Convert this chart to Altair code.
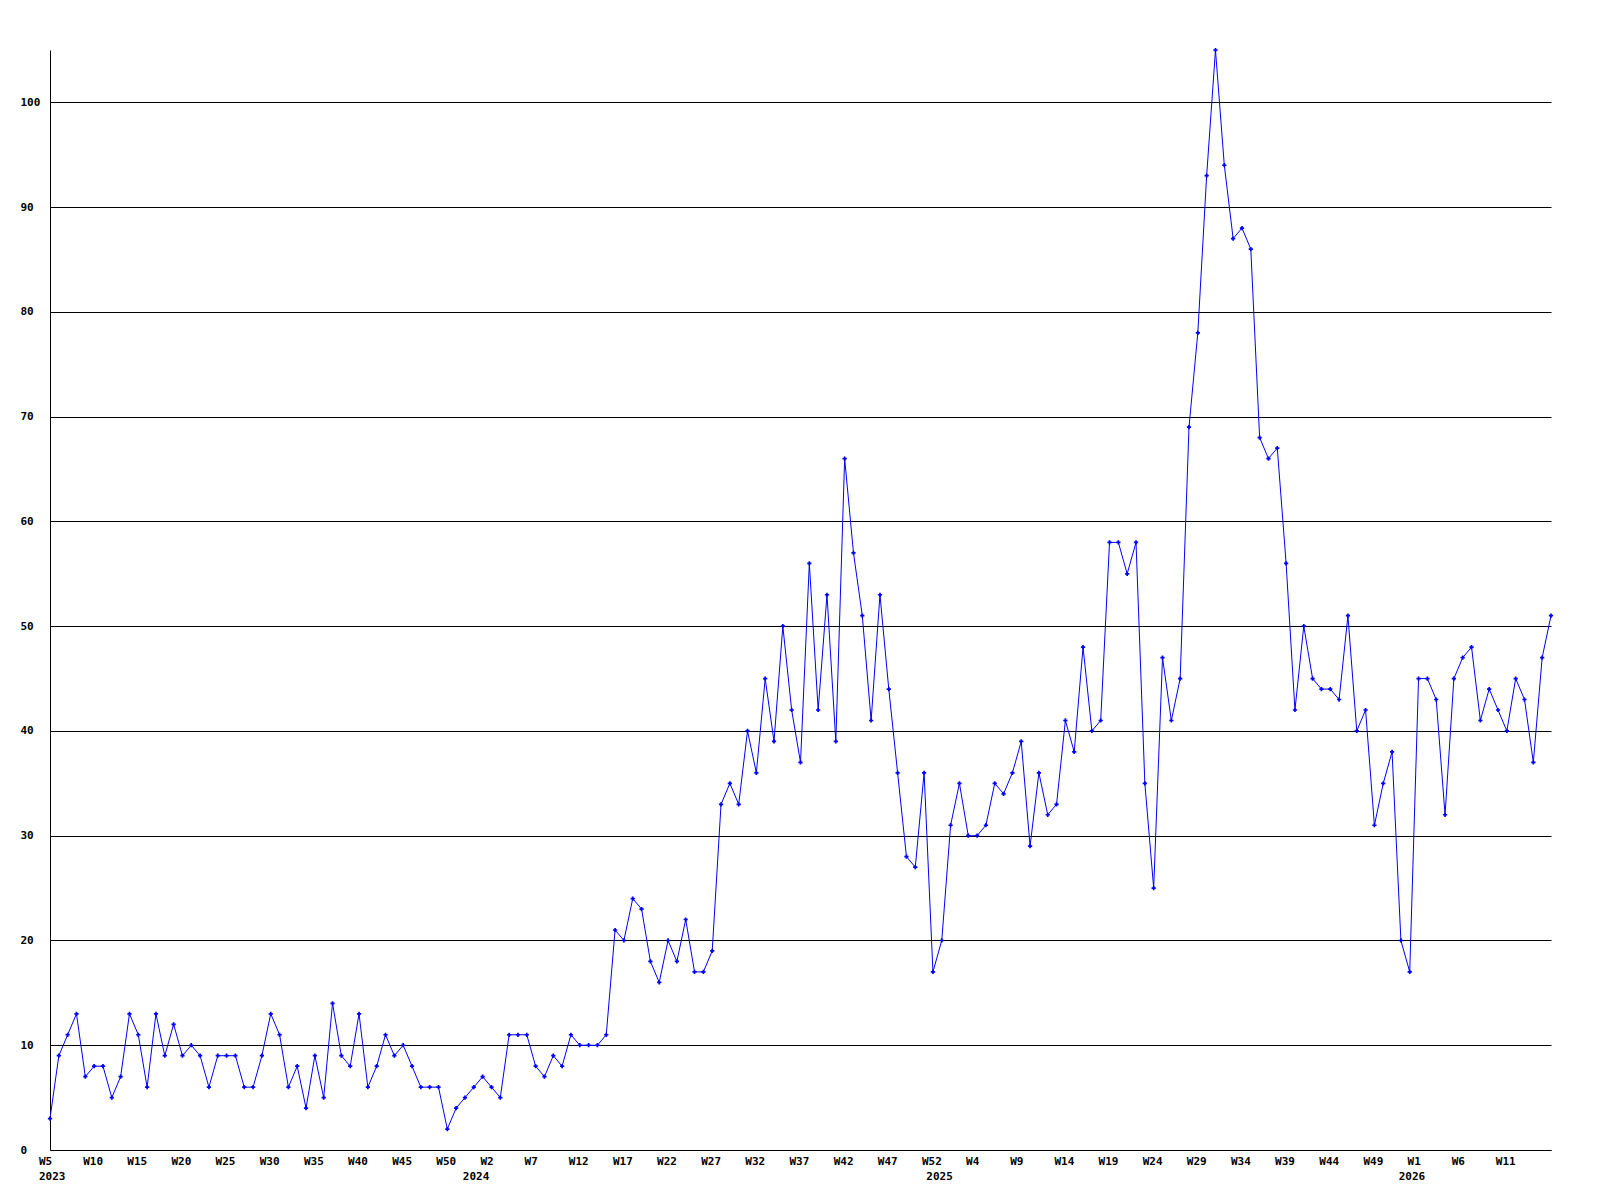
import altair as alt
import pandas as pd

# Weekly values, 2023 W5 onward (one value per week)
values = [
    3, 9, 11, 13, 7, 8, 8, 5, 7, 13, 11, 6, 13, 9, 12, 9, 10, 9, 6, 9,
    9, 9, 6, 6, 9, 13, 11, 6, 8, 4, 9, 5, 14, 9, 8, 13, 6, 8, 11, 9,
    10, 8, 6, 6, 6, 2, 4, 5, 6, 7, 6, 5, 11, 11, 11, 8, 7, 9, 8, 11,
    10, 10, 10, 11, 21, 20, 24, 23, 18, 16, 20, 18, 22, 17, 17, 19, 33, 35, 33, 40,
    36, 45, 39, 50, 42, 37, 56, 42, 53, 39, 66, 57, 51, 41, 53, 44, 36, 28, 27, 36,
    17, 20, 31, 35, 30, 30, 31, 35, 34, 36, 39, 29, 36, 32, 33, 41, 38, 48, 40, 41,
    58, 58, 55, 58, 35, 25, 47, 41, 45, 69, 78, 93, 105, 94, 87, 88, 86, 68, 66, 67,
    56, 42, 50, 45, 44, 44, 43, 51, 40, 42, 31, 35, 38, 20, 17, 45, 45, 43, 32, 45,
    47, 48, 41, 44, 42, 40, 45, 43, 37, 47, 51,
]

tick_index = list(range(0, 170, 5))
tick_labels = [
    "W5", "W10", "W15", "W20", "W25", "W30", "W35", "W40", "W45", "W50",
    "W2", "W7", "W12", "W17", "W22", "W27", "W32", "W37", "W42", "W47", "W52",
    "W4", "W9", "W14", "W19", "W24", "W29", "W34", "W39", "W44", "W49",
    "W1", "W6", "W11",
]
# year labels sit at the start of each year (in weeks since the first point)
year_index = [0, 48, 100.5, 154]
year_labels = ["2023", "2024", "2025", "2026"]
y_ticks = list(range(0, 101, 10))

df = pd.DataFrame({"idx": list(range(len(values))), "value": values})
ticks_df = pd.DataFrame({"idx": tick_index, "label": tick_labels})
years_df = pd.DataFrame({"idx": year_index, "label": year_labels})

FONT = "DejaVu Sans Mono"
BLUE = "#0000ff"

x_scale = alt.Scale(domain=[0, 170], nice=False, zero=False)
y_scale = alt.Scale(domain=[0, 105], nice=False)

x_enc = alt.X(
    "idx:Q",
    scale=x_scale,
    axis=alt.Axis(
        title=None, labels=False, ticks=False, tickSize=0, grid=False,
        domainColor="black", domainWidth=1,
    ),
)
y_enc = alt.Y(
    "value:Q",
    scale=y_scale,
    axis=alt.Axis(
        title=None, values=y_ticks, ticks=False, tickSize=0,
        grid=True, gridColor="black", gridOpacity=1, gridWidth=1,
        domainColor="black", domainWidth=1,
        labelAlign="left", labelPadding=30, labelBaseline="middle",
        labelFont=FONT, labelFontSize=11, labelFontWeight="bold",
        labelColor="black",
    ),
)

line = alt.Chart(df).mark_line(color=BLUE, strokeWidth=1).encode(x=x_enc, y=y_enc)
points = alt.Chart(df).mark_point(
    shape="cross", filled=True, size=18, color=BLUE, opacity=1
).encode(x="idx:Q", y="value:Q")

week_text = alt.Chart(ticks_df).mark_text(
    font=FONT, fontSize=11, fontWeight="bold", color="black",
    align="left", baseline="middle", dx=-11,
).encode(x="idx:Q", y=alt.value(1112), text="label:N")

year_text = alt.Chart(years_df).mark_text(
    font=FONT, fontSize=11, fontWeight="bold", color="black",
    align="left", baseline="middle", dx=-11,
).encode(x="idx:Q", y=alt.value(1127), text="label:N")

chart = (
    alt.layer(line, points, week_text, year_text)
    .properties(
        width=1501,
        height=1100,
        autosize=alt.AutoSizeParams(type="none"),
        padding={"left": 42, "top": 42, "right": 41, "bottom": 42},
        background="white",
    )
    .configure_view(stroke=None)
)

chart.save("out.html", embed_options={"renderer": "svg", "actions": False})
